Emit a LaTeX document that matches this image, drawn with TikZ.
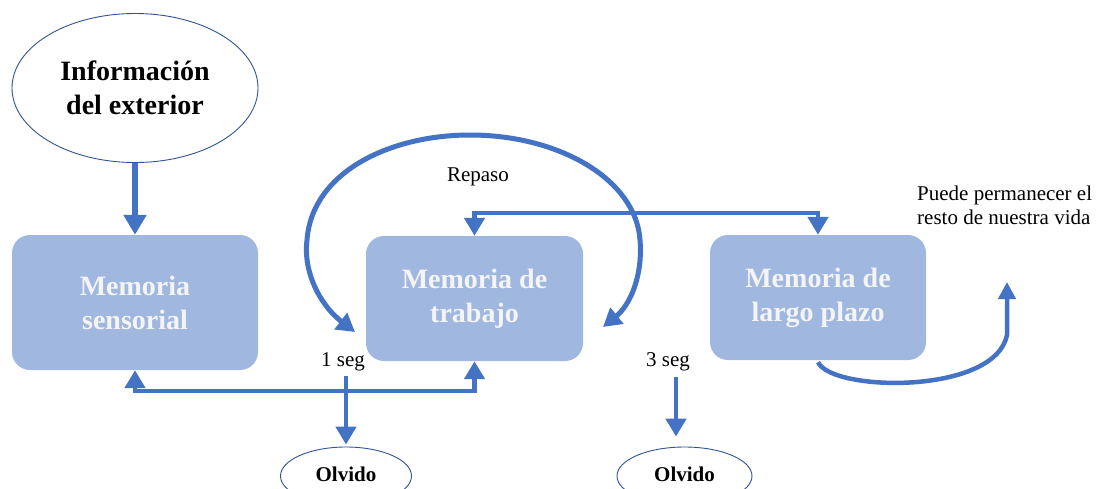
\documentclass[tikz,border=0pt]{standalone}
\usepackage{fontspec}
\setmainfont{Liberation Serif}
\usetikzlibrary{arrows.meta,shapes.geometric,calc}
\definecolor{boxfill}{RGB}{160,184,224}
\definecolor{arrblue}{RGB}{68,114,196}
\definecolor{ellline}{RGB}{47,85,151}
\definecolor{boxtext}{RGB}{244,244,244}
\tikzset{
  memobox/.style={rectangle, rounded corners=18pt, fill=boxfill, draw=none,
    text=boxtext, font=\bfseries\fontsize{28}{34}\selectfont, align=center},
  ovalnode/.style={ellipse, draw=ellline, line width=0.9pt, fill=white,
    font=\bfseries, align=center, inner sep=0pt},
  arr/.style={draw=arrblue, line width=4.5pt, -{Triangle[length=18pt,width=20pt]}},
  biarr/.style={draw=arrblue, line width=4.5pt, {Triangle[length=18pt,width=20pt]}-{Triangle[length=18pt,width=20pt]}},
  lbl/.style={font=\fontsize{21}{24}\selectfont, inner sep=0pt}
}
\begin{document}
\begin{tikzpicture}[x=1pt,y=-1pt]
\clip (0,0) rectangle (1104,488);
\fill[white] (0,0) rectangle (1104,488);

% nodes
\node[ovalnode, minimum width=246pt, minimum height=149pt,
      font=\bfseries\fontsize{28}{34}\selectfont] (info) at (135,88) {Información\\del exterior};
\node[memobox, minimum width=246pt, minimum height=135pt] (sens) at (135,302.5) {Memoria\\sensorial};
\node[memobox, minimum width=217pt, minimum height=125pt] (trab) at (474.5,298.5) {Memoria de\\trabajo};
\node[memobox, minimum width=216pt, minimum height=125pt] (largo) at (818,297.5) {Memoria de\\largo plazo};
\node[ovalnode, minimum width=131pt, minimum height=58pt,
      font=\bfseries\fontsize{21}{24}\selectfont] (olv1) at (346,476) {\raisebox{3pt}{Olvido}};
\node[ovalnode, minimum width=135pt, minimum height=58pt,
      font=\bfseries\fontsize{21}{24}\selectfont] (olv2) at (684.5,476) {\raisebox{3pt}{Olvido}};

% labels
\node[lbl] (rep) at (478,177) {Repaso};
\node[lbl] (seg1) at (343,362) {1 seg};
\node[lbl] (seg3) at (668,362) {3 seg};
\node[lbl, align=left, anchor=west, font=\fontsize{21}{24}\selectfont] (puede) at (917,205)
  {Puede permanecer el\\resto de nuestra vida};

% helper coordinates
\coordinate (bl) at (300,391);
\coordinate (tl) at (650,213);
\coordinate (rl) at (355,332);
\coordinate (rr) at (603,327);
\coordinate (up) at (1007,282);

% connectors
\draw[draw=arrblue, line width=6.5pt, -{Triangle[length=20pt,width=22pt]}] (info.south) -- (sens.north);
\draw[biarr] (sens.south) |- (bl) -| (trab.south);
\draw[biarr] (trab.north) |- (tl) -| (largo.north);
\draw[arr] ([yshift=-5pt]seg1.south -| olv1.north) -- ([yshift=2pt]olv1.north);
\draw[arr] ([xshift=8pt,yshift=-6pt]seg3.south) -- ([xshift=-8.5pt,yshift=10pt]olv2.north);
\draw[biarr, line width=5pt] (rl) .. controls (320,305) and (303,272) .. (307,240)
   .. controls (312,172) and (390,135) .. (470,135)
   .. controls (560,135) and (636,180) .. (640,240)
   .. controls (643,276) and (630,305) .. (rr);
\draw[draw=arrblue, line width=4.5pt, -{Triangle[length=17pt,width=17pt]}]
   ([yshift=-2pt]largo.south) .. controls (832,392) and (995,395) .. (1007,335) -- (up);
\end{tikzpicture}
\end{document}
